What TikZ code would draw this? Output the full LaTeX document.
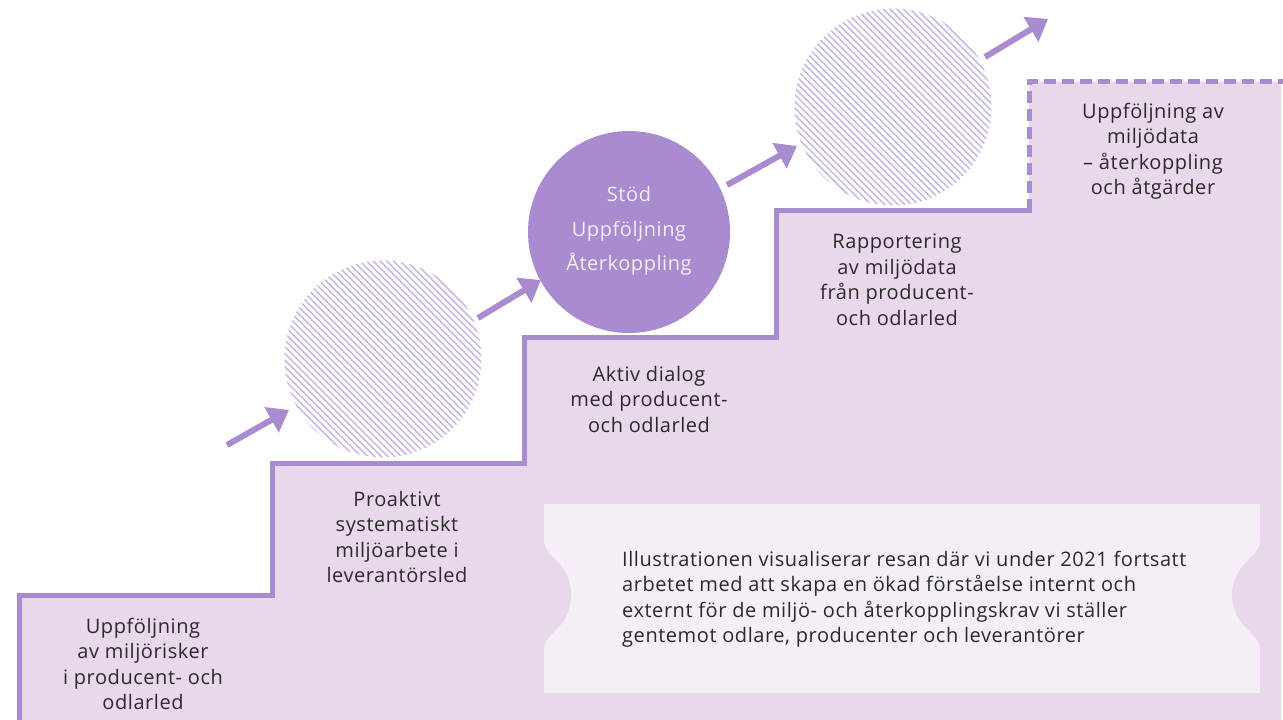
\documentclass[tikz,border=0pt]{standalone}
\usepackage{fontspec}
\setmainfont{Open Sans}[LetterSpace=2.8]
\usetikzlibrary{arrows.meta}
\definecolor{lilac}{HTML}{A98BCF}
\definecolor{stepfill}{HTML}{E9D8EC}
\definecolor{boxfill}{HTML}{F5EEF7}
\definecolor{hatchc}{HTML}{C9B7E4}
\definecolor{txt}{HTML}{2A2A2A}
\definecolor{ctxt}{HTML}{F4EEFA}
\begin{document}
\begin{tikzpicture}[x=1pt,y=-1pt,
  steptext/.style={align=center, text=txt, font=\fontsize{20}{25.5}\selectfont, inner sep=0pt},
  bodytext/.style={align=left, text=txt, font=\fontsize{20}{25.5}\selectfont, inner sep=0pt, anchor=west},
  circtext/.style={align=center, text=ctxt, font=\fontsize{20}{34.5}\selectfont, inner sep=0pt},
  stair/.style={draw=lilac, line width=5pt, line join=miter},
  hatchline/.style={draw=hatchc, line width=1.5pt},
  flow/.style={draw=lilac, fill=lilac, line width=6pt, -{Triangle[length=20pt,width=28pt]}},
  hatchcirc/.style={circle, minimum size=196pt, inner sep=0pt}
]
\useasboundingbox (0,0) rectangle (1283,720);
% fill under stairs
\fill[stepfill] (19.5,720) -- (19.5,595.5) -- (272,595.5) -- (272,463.5) -- (524,463.5) -- (524,337.5) -- (776,337.5) -- (776,210.5) -- (1029,210.5) -- (1029,81.5) -- (1281,81.5) -- (1281,720) -- cycle;
% stair outline
\draw[stair] (19.5,720) -- (19.5,595.5) -- (272,595.5) -- (272,463.5) -- (524,463.5) -- (524,337.5) -- (776,337.5) -- (776,210.5) -- (1031.5,210.5);
\draw[stair, dash pattern=on 12pt off 6pt] (1029,210.5) -- (1029,81.5) -- (1283,81.5);
% text box with notches
\fill[boxfill] (544,504) -- (1260,504) -- (1260,540)
  .. controls (1260,552) and (1248,558) .. (1241,568)
  .. controls (1235,576) and (1232,585) .. (1232,595)
  .. controls (1232,605) and (1235,614) .. (1241,622)
  .. controls (1248,632) and (1260,638) .. (1260,650)
  -- (1260,693) -- (544,693) -- (544,650)
  .. controls (544,638) and (556,632) .. (563,622)
  .. controls (569,614) and (571,605) .. (571,595)
  .. controls (571,585) and (569,576) .. (563,568)
  .. controls (556,558) and (544,552) .. (544,540) -- cycle;
% hatched circles
\node[hatchcirc] (h1) at (383,359) {};
\node[hatchcirc] (h2) at (893,107) {};
\foreach \c in {h1,h2}{
  \begin{scope}
    \clip (\c.center) circle (98.5pt);
    \foreach \s in {-240,-233.3,...,240}
      \draw[hatchline] ([shift={(\s-120,-120)}]\c.center) -- ++(240,240);
  \end{scope}
}
% solid circle
\node[circle, fill=lilac, minimum size=202pt, inner sep=0pt] (sc) at (629,232) {};
\node[circtext] (sct) at (629,231) {Stöd\\Uppföljning\\Återkoppling};
% arrows
\coordinate (a1s) at (227,445); \coordinate (a1e) at (289,410);
\coordinate (a2s) at (478,318); \coordinate (a2e) at (541,280);
\coordinate (a3s) at (727,185); \coordinate (a3e) at (797,146);
\coordinate (a4s) at (985,57);  \coordinate (a4e) at (1048,19);
\draw[flow] (a1s) -- (a1e);
\draw[flow] (a2s) -- (a2e);
\draw[flow] (a3s) -- (a3e);
\draw[flow] (a4s) -- (a4e);
% texts
\node[steptext] (t1) at (143,664) {Uppföljning\\av miljörisker\\i producent- och\\odlarled};
\node[steptext] (t2) at (397,537) {Proaktivt\\systematiskt\\miljöarbete i\\leverantörsled};
\node[steptext] (t3) at (649,399) {Aktiv dialog\\med producent-\\och odlarled};
\node[steptext] (t4) at (897,280) {Rapportering\\av miljödata\\från producent-\\och odlarled};
\node[steptext] (t5) at (1153,151) {Uppföljning av\\miljödata\\– återkoppling\\och åtgärder};
\node[bodytext] (body) at (622,599) {Illustrationen visualiserar resan där vi under 2021 fortsatt\\arbetet med att skapa en ökad förståelse internt och\\externt för de miljö- och återkopplingskrav vi ställer\\gentemot odlare, producenter och leverantörer};
\end{tikzpicture}
\end{document}
